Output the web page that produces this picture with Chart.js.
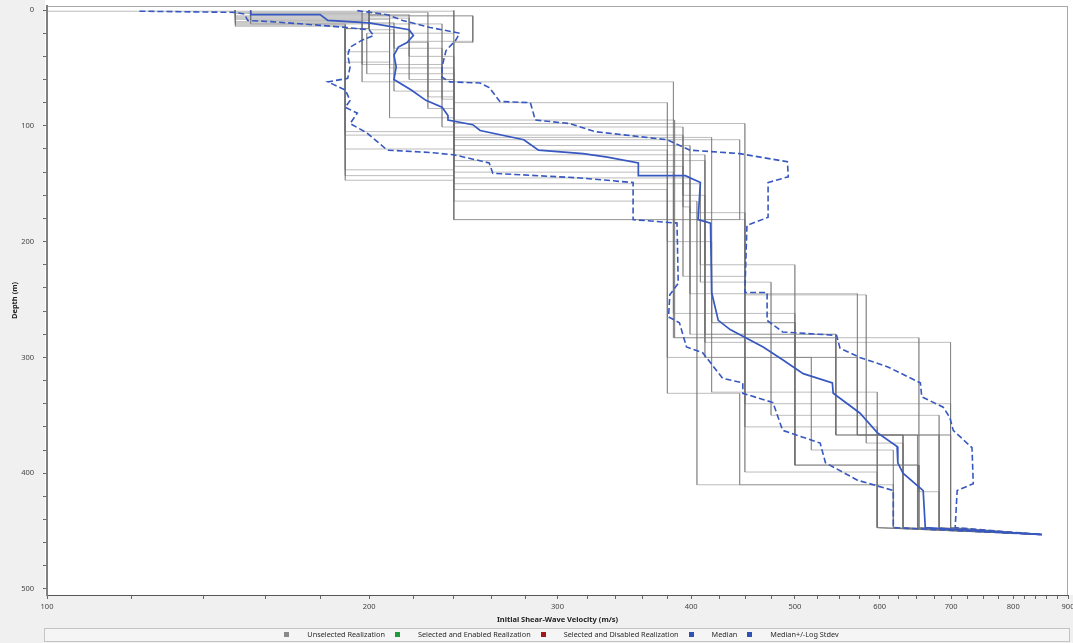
<!DOCTYPE html>
<html lang="en">
  <head>
    <meta charset="UTF-8" />
    <title>Initial Shear-Wave Velocity profiles</title>
    <script src="https://cdn.jsdelivr.net/npm/chart.js@4"></script>
    <style>
      html, body { margin: 0; padding: 0; background: #f0f0f0; }
    </style>
  </head>
  <body>
    <canvas id="myChart" width="1073" height="643"></canvas>

    <script>
      // axis ticks
      const xMajorTicks = [100, 200, 300, 400, 500, 600, 700, 800, 900];
      const xMinorTicks = [120, 140, 160, 180, 220, 240, 260, 280, 320, 340, 360, 380,
        425, 450, 475, 525, 550, 575, 625, 650, 675, 725, 750, 775, 820, 840, 860, 880];
      const yMajorTicks = [0, 100, 200, 300, 400, 500];
      const yMinorTicks = [20, 40, 60, 80, 120, 140, 160, 180, 220, 240, 260, 280,
        320, 340, 360, 380, 420, 440, 460, 480];

      // median profile (velocity m/s, depth m)
      const medianVel = [155, 155, 180, 183, 200, 218, 220, 217, 213, 211, 212, 211, 219, 226, 234,
        237, 237, 250, 254, 279, 288, 317, 334, 357, 357, 395, 408, 406, 417, 418,
        424, 435, 467, 487, 509, 542, 543, 575, 597, 623, 624, 631, 659, 662, 851];
      const medianDepth = [0.5, 4, 4, 9, 11, 17, 22, 28, 32, 39, 49, 60, 69, 78, 84,
        91, 95, 99, 104, 112, 121, 124, 127, 132, 143, 143, 149, 181, 184, 244,
        268, 276, 291, 302, 314, 322, 331, 348, 365, 377, 391, 400, 415, 447, 453];

      // median - log stdev
      const lowerVel = [122, 150, 153, 154, 162, 179, 190, 200, 202, 197, 192, 191, 192, 191, 183,
        190, 192, 190, 195, 192, 199, 208, 228, 240, 259, 261, 315, 353, 353, 388,
        389, 382, 381, 390, 396, 410, 428, 447, 447, 477, 487, 528, 534, 572, 618, 618, 851];
      const lowerDepth = [1, 2, 3.5, 9, 10, 13, 15, 17, 22, 26, 32, 39, 49, 59, 62,
        69, 78, 84, 89, 98, 106, 121, 123, 125, 132, 141, 145, 149, 181, 184,
        236, 246, 265, 270, 291, 296, 318, 322, 331, 339, 363, 374, 391, 406, 415, 447, 453];

      // median + log stdev
      const upperVel = [195, 208, 215, 228, 243, 241, 236, 234, 234, 238, 254, 259, 265, 283, 286,
        308, 325, 380, 399, 444, 492, 493, 472, 472, 451, 449, 471, 471, 487, 547,
        551, 575, 610, 655, 657, 688, 698, 703, 732, 734, 709, 706, 851];
      const upperDepth = [0.5, 4, 9, 15, 20, 26, 35, 49, 58, 62, 63, 67, 79, 80, 95,
        98, 105, 112, 121, 124, 131, 144, 149, 179, 186, 244, 244, 268, 278, 281,
        292, 300, 308, 322, 334, 343, 352, 363, 378, 409, 415, 447, 453];

      // realizations: layer velocities and layer bottom depths
      const realizationVel = [
        [95, 155, 190, 240, 449, 583, 631],
        [150, 200, 190, 240, 408, 418, 500, 653],
        [200, 250, 240, 385, 546, 699],
        [150, 209, 240, 380, 444, 597],
        [155, 218, 240, 449, 597],
        [150, 197, 234, 393, 412, 572, 682],
        [200, 227, 240, 418, 500, 651],
        [150, 190, 240, 405, 618],
        [240, 444, 412, 699],
        [150, 250, 218, 240, 386, 653, 682],
        [150, 200, 190, 393, 399, 546, 631],
        [150, 234, 240, 412, 500, 572, 631],
        [155, 200, 211, 240, 399, 449, 699],
        [150, 197, 240, 380, 418, 597],
        [200, 190, 209, 240, 408, 475, 682],
        [150, 218, 227, 240, 385, 500, 653],
        [150, 190, 240, 399, 449, 572, 699],
        [200, 209, 190, 240, 380, 518, 618],
        [155, 240, 199, 240, 412, 546, 651],
        [150, 211, 234, 240, 393, 449, 597]
      ];
      const realizationBottom = [
        [1, 12, 147, 181, 246, 374, 447],
        [6, 16, 143, 181, 220, 270, 393, 447],
        [5, 28, 62, 283, 367, 447],
        [8, 50, 80, 331, 410, 447],
        [4, 40, 98, 399, 447],
        [10, 47, 101, 160, 300, 367, 447],
        [2, 75, 110, 270, 393, 447],
        [14, 120, 165, 410, 447],
        [112, 181, 287, 447],
        [5, 27, 60, 95, 283, 416, 447],
        [3, 16, 108, 170, 280, 367, 447],
        [12, 60, 130, 220, 300, 367, 447],
        [9, 17, 70, 145, 245, 340, 447],
        [2, 62, 121, 200, 330, 447],
        [16, 36, 93, 150, 235, 350, 447],
        [7, 28, 85, 140, 262, 393, 447],
        [13, 105, 117, 175, 245, 367, 447],
        [4, 45, 138, 155, 300, 380, 447],
        [1, 20, 55, 125, 280, 367, 447],
        [11, 33, 77, 135, 230, 360, 447]
      ];
      const halfSpaceVel = 851;
      const halfSpaceDepth = 453;

      const legendLabels = ['Unselected Realization', 'Selected and Enabled Realization',
        'Selected and Disabled Realization', 'Median', 'Median+/-Log Stdev'];
      const legendColors = ['#8a8a8a', '#1f9a3c', '#a01818', '#2f52b4', '#2f52b4'];

      const blue = 'rgb(55, 88, 192)';
      const font = '"Noto Sans", "Liberation Sans", sans-serif';

      function pairUp(vel, depth) {
        return vel.map((v, i) => ({ x: v, y: depth[i] }))
      }

      function stepProfile(vel, bottom) {
        const pts = [{ x: vel[0], y: 0 }]
        vel.forEach((v, i) => {
          pts.push({ x: v, y: bottom[i] })
          if (i + 1 < vel.length) pts.push({ x: vel[i + 1], y: bottom[i] })
        })
        pts.push({ x: halfSpaceVel, y: halfSpaceDepth })
        return pts
      }

      const datasets = [
        { label: 'Median', data: pairUp(medianVel, medianDepth), borderColor: blue, borderWidth: 1.7 },
        { label: 'Median+/-Log Stdev', data: pairUp(upperVel, upperDepth), borderColor: blue, borderWidth: 1.6, borderDash: [6, 3] },
        { label: 'Median+/-Log Stdev', data: pairUp(lowerVel, lowerDepth), borderColor: blue, borderWidth: 1.6, borderDash: [6, 3] }
      ]
      realizationVel.forEach((vel, i) => {
        datasets.push({
          label: 'Unselected Realization',
          data: stepProfile(vel, realizationBottom[i]),
          borderColor: 'rgba(115, 115, 115, 0.48)',
          borderWidth: 1
        })
      })
      datasets.forEach(ds => {
        ds.showLine = true
        ds.pointRadius = 0
        ds.fill = false
        ds.tension = 0
      })

      // background panels and plot frame
      const backdrop = {
        id: 'backdrop',
        beforeDraw(chart) {
          const { ctx, chartArea: a } = chart
          ctx.save()
          ctx.fillStyle = '#f0f0f0'
          ctx.fillRect(0, 0, chart.width, chart.height)
          ctx.fillStyle = '#ffffff'
          ctx.fillRect(a.left - 2, 0, chart.width - a.left + 2, a.bottom)
          ctx.strokeStyle = '#a8a8a8'
          ctx.lineWidth = 1
          ctx.strokeRect(a.left + 0.5, a.top + 0.5, a.right - a.left - 1, a.bottom - a.top)
          ctx.restore()
        }
      }

      // legend strip at the bottom
      const legendStrip = {
        id: 'legendStrip',
        afterDraw(chart) {
          const { ctx, chartArea: a } = chart
          ctx.save()
          const top = chart.height - 15
          ctx.fillStyle = '#f5f5f5'
          ctx.fillRect(a.left - 3, top, a.right - a.left + 5, 13)
          ctx.strokeStyle = '#c4c4c4'
          ctx.strokeRect(a.left - 2.5, top + 0.5, a.right - a.left + 4, 13)
          ctx.font = '7.3px ' + font
          ctx.textBaseline = 'middle'
          const widths = legendLabels.map(t => ctx.measureText(t).width)
          const total = widths.reduce((s, w) => s + w + 23 + 10, 0) - 10
          let x = (a.left + a.right) / 2 + 4 - total / 2
          const cy = top + 7
          legendLabels.forEach((t, i) => {
            ctx.fillStyle = legendColors[i]
            ctx.fillRect(Math.round(x), cy - 3, 5, 5)
            ctx.fillStyle = '#2a2a2a'
            ctx.fillText(t, x + 23, cy)
            x += 23 + widths[i] + 10
          })
          ctx.restore()
        }
      }

      const ctx = document.getElementById('myChart').getContext('2d')
      const myChart = new Chart(ctx, {
        type: 'scatter',
        data: { datasets },
        plugins: [backdrop, legendStrip],
        options: {
          responsive: false,
          animation: false,
          events: [],
          layout: { padding: { left: 0, right: 5, top: 6, bottom: 18 } },
          plugins: {
            legend: { display: false },
            tooltip: { enabled: false }
          },
          scales: {
            x: {
              type: 'logarithmic',
              position: 'bottom',
              min: 100,
              max: 900,
              afterBuildTicks: s => {
                s.ticks = xMajorTicks.concat(xMinorTicks).sort((a, b) => a - b).map(v => ({ value: v }))
              },
              afterFit: s => {
                s.height = 30
                s.paddingLeft = 0
                s.paddingRight = 0
              },
              ticks: {
                autoSkip: false,
                maxRotation: 0,
                padding: 3,
                color: '#444',
                font: { family: font, size: 7.5 },
                callback: v => xMajorTicks.includes(v) ? String(v) : ''
              },
              grid: { drawOnChartArea: false, tickLength: 4, color: '#666' },
              border: { display: true, color: '#555', width: 1 },
              title: {
                display: true,
                text: 'Initial Shear-Wave Velocity (m/s)',
                color: '#222',
                font: { family: font, size: 7.5, weight: 'bold' },
                padding: { top: 0, bottom: 1 }
              }
            },
            y: {
              type: 'linear',
              reverse: true,
              min: -3.5,
              max: 505.2,
              afterBuildTicks: s => {
                s.ticks = yMajorTicks.concat(yMinorTicks).sort((a, b) => a - b).map(v => ({ value: v }))
              },
              afterFit: s => {
                s.width = 47
                s.paddingTop = 0
                s.paddingBottom = 0
              },
              ticks: {
                autoSkip: false,
                padding: 9,
                color: '#444',
                font: { family: font, size: 7.5 },
                callback: v => yMajorTicks.includes(v) ? String(v) : ''
              },
              grid: { drawOnChartArea: false, tickLength: 4, color: '#666' },
              border: { display: true, color: '#808080', width: 2 },
              title: {
                display: true,
                text: 'Depth (m)',
                color: '#222',
                font: { family: font, size: 7.5, weight: 'bold' },
                padding: { top: 10 }
              }
            }
          }
        }
      });
    </script>
  </body>
</html>
